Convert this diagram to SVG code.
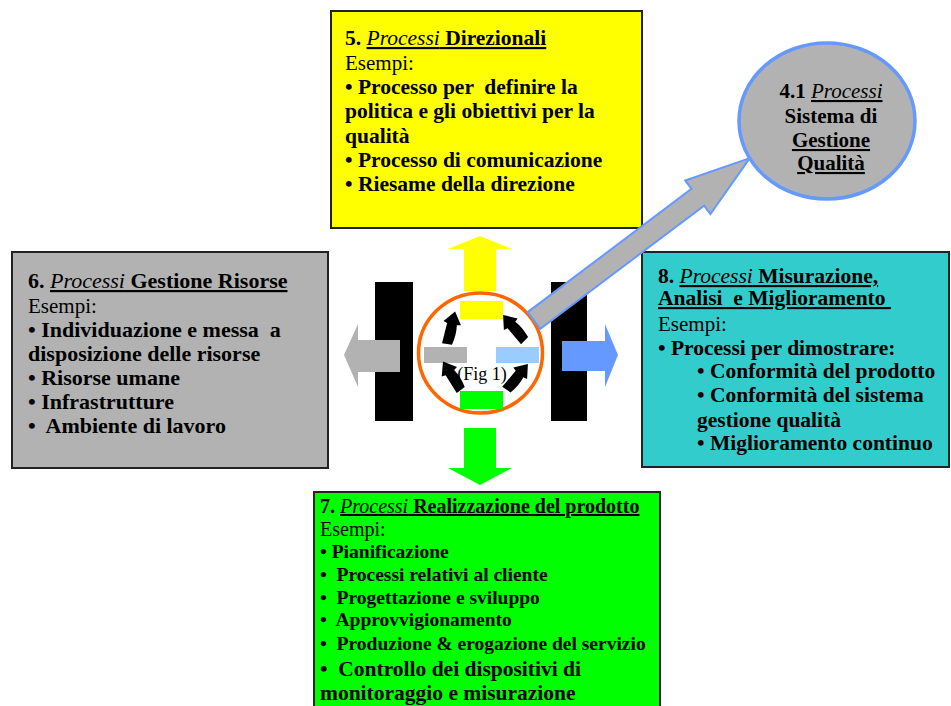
<svg xmlns="http://www.w3.org/2000/svg" width="951" height="706" viewBox="0 0 951 706">
<style>
text { font-family: "Liberation Serif", "Times New Roman", serif; fill: #000; }
.b { font-weight: bold; }
.r { font-weight: normal; }
.i { font-style: italic; font-weight: normal; }
.u { text-decoration: underline; }
.box { stroke: #222; stroke-width: 2; }
</style>
<defs>
<path id="rot" d="M0,-17 L9,-5 L5,-4 Q7,5 5,16 L-5,17 Q-5,5 -5,-4 L-9,-5 Z" fill="#000"/>
</defs>
<rect width="951" height="706" fill="#fff"/>

<g id="box5">
<rect class="box" x="331" y="11" width="311" height="217" fill="#FFFF00"/>
<text xml:space="preserve" x="345" y="45" font-size="21.5"><tspan class="b">5. </tspan><tspan class="i u">Processi</tspan><tspan class="b u"> Direzionali</tspan></text>
<text x="345" y="70" font-size="21" class="r">Esempi:</text>
<text xml:space="preserve" class="b" font-size="21.5"><tspan x="345" y="94">• Processo per  definire la</tspan><tspan x="345" y="118">politica e gli obiettivi per la</tspan><tspan x="345" y="143">qualità</tspan><tspan x="345" y="167">• Processo di comunicazione</tspan><tspan x="345" y="191">• Riesame della direzione</tspan></text>
</g>

<g id="box6">
<rect class="box" x="12" y="252" width="316" height="216" fill="#B2B2B2"/>
<text xml:space="preserve" x="28" y="288" font-size="22"><tspan class="b">6. </tspan><tspan class="i u">Processi</tspan><tspan class="b u"> Gestione Risorse</tspan></text>
<text x="28" y="313" font-size="21" class="r">Esempi:</text>
<text xml:space="preserve" class="b" font-size="22"><tspan x="28" y="337">• Individuazione e messa  a</tspan><tspan x="28" y="361">disposizione delle risorse</tspan><tspan x="28" y="385">• Risorse umane</tspan><tspan x="28" y="409">• Infrastrutture</tspan><tspan x="28" y="433">•  Ambiente di lavoro</tspan></text>
</g>

<g id="box8">
<rect class="box" x="642" y="252" width="307" height="215" fill="#33CCCC"/>
<text xml:space="preserve" x="658" y="283" font-size="21.5"><tspan class="b">8. </tspan><tspan class="i u">Processi</tspan><tspan class="b u"> Misurazione,</tspan></text>
<text xml:space="preserve" x="658" y="305" font-size="21.5" class="b u">Analisi  e Miglioramento </text>
<text x="658" y="331" font-size="21" class="r">Esempi:</text>
<text xml:space="preserve" class="b" font-size="21.5"><tspan x="658" y="355">• Processi per dimostrare:</tspan><tspan x="697" y="378">• Conformità del prodotto</tspan><tspan x="697" y="402">• Conformità del sistema</tspan><tspan x="697" y="427">gestione qualità</tspan><tspan x="697" y="450">• Miglioramento continuo</tspan></text>
</g>

<g id="box7">
<rect class="box" x="314" y="492" width="346" height="222" fill="#00FF00"/>
<text xml:space="preserve" x="320" y="513" font-size="20"><tspan class="b">7. </tspan><tspan class="i u">Processi</tspan><tspan class="b u"> Realizzazione del prodotto</tspan></text>
<text x="320" y="536" font-size="20" class="r">Esempi:</text>
<text xml:space="preserve" class="b" font-size="19.5"><tspan x="320" y="558">• Pianificazione</tspan><tspan x="320" y="581">•  Processi relativi al cliente</tspan><tspan x="320" y="604">•  Progettazione e sviluppo</tspan><tspan x="320" y="626">•  Approvvigionamento</tspan><tspan x="320" y="650">•  Produzione &amp; erogazione del servizio</tspan></text>
<text xml:space="preserve" class="b" font-size="21.5"><tspan x="320" y="676">•  Controllo dei dispositivi di</tspan><tspan x="320" y="700">monitoraggio e misurazione</tspan></text>
</g>

<g id="center">
<rect x="375" y="282" width="38" height="139" fill="#000"/>
<rect x="551" y="282" width="36" height="139" fill="#000"/>
<ellipse cx="480.5" cy="353" rx="62" ry="60" fill="#fff" stroke="#FF6600" stroke-width="3.5"/>
<rect x="460" y="301" width="43" height="18" fill="#FFFF00"/>
<rect x="424" y="347" width="43" height="16" fill="#B2B2B2"/>
<rect x="496" y="347" width="43" height="16" fill="#99CCFF"/>
<rect x="460" y="391" width="43" height="18" fill="#00FF00"/>
<use href="#rot" transform="translate(451,328) rotate(14)"/>
<use href="#rot" transform="translate(514,328) rotate(-40)"/>
<use href="#rot" transform="translate(517,377) rotate(40)"/>
<use href="#rot" transform="translate(452,376) rotate(-32)"/>
<text x="482" y="380" font-size="18" text-anchor="middle" class="r">(Fig 1)</text>
</g>

<g id="connectors">
<polygon points="480,236 512,249 496,249 496,291 464,291 464,249 448,249" fill="#FFFF00"/>
<polygon points="480,485 512,468 496,468 496,428 464,428 464,468 448,468" fill="#00FF00"/>
<polygon points="344,355 358,324 358,340 400,340 400,372 358,372 358,387" fill="#B2B2B2"/>
<polygon points="618,355 605,324 605,341 562,341 562,371 605,371 605,387" fill="#6699FF"/>
<polygon transform="translate(534,320.5) rotate(-36.96)" points="0,-10.5 205,-10.5 205,-21 270,0 205,21 205,10.5 0,10.5" fill="#B2B2B2" stroke="#6699FF" stroke-width="2" stroke-linejoin="miter"/>
</g>

<g id="node41">
<ellipse cx="827" cy="121" rx="88" ry="78" fill="#B2B2B2" stroke="#6699FF" stroke-width="3.5"/>
<text xml:space="preserve" x="831" y="98" font-size="21" text-anchor="middle"><tspan class="b">4.1 </tspan><tspan class="i u">Processi</tspan></text>
<text x="831" y="123" font-size="21" text-anchor="middle" class="b">Sistema di</text>
<text x="831" y="147" font-size="21" text-anchor="middle" class="b u">Gestione</text>
<text x="831" y="170" font-size="21" text-anchor="middle" class="b u">Qualità</text>
</g>
</svg>
